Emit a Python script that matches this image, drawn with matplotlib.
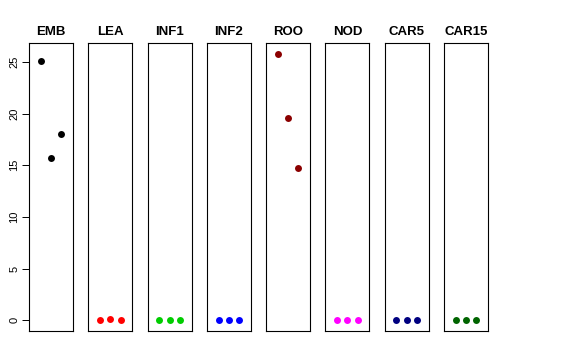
import matplotlib
matplotlib.use("Agg")
from matplotlib import pyplot as plt

plt.rcParams['font.family'] = ['Liberation Sans', 'DejaVu Sans']

panels = ["EMB", "LEA", "INF1", "INF2", "ROO", "NOD", "CAR5", "CAR15"]
colors = ["black", "red", "#00CD00", "blue", "#8B0000", "magenta", "#000080", "#006400"]
values = [
    [25.1, 15.7, 18.0],
    [0.0, 0.1, 0.0],
    [0.0, 0.0, 0.0],
    [0.0, 0.0, 0.0],
    [25.8, 19.6, 14.7],
    [0.0, 0.0, 0.0],
    [0.0, 0.0, 0.0],
    [0.0, 0.0, 0.0],
]
yticks = [0, 5, 10, 15, 20, 25]

fig, axes = plt.subplots(1, len(panels), figsize=(5.76, 3.6), dpi=100, sharey=True)
fig.subplots_adjust(left=29/576, right=488/576, bottom=1-331/360, top=1-43/360, wspace=15/44)

ymax = max(max(v) for v in values)
pad = 0.04 * ymax
for i, ax in enumerate(axes):
    xs = range(1, len(values[i]) + 1)
    ax.plot(xs, values[i], 'o', color=colors[i], ms=5, mec='none')
    ax.set_xlim(-0.15, 4.15)
    ax.set_ylim(-pad, ymax + pad)
    ax.set_title(panels[i], fontsize=9.5, fontweight='bold', pad=6)
    ax.set_xticks([])
    for s in ax.spines.values():
        s.set_linewidth(0.8)
    if i == 0:
        ax.set_yticks(yticks)
        ax.tick_params(axis='y', labelsize=8, length=5, width=0.7, pad=2)
        for lab in ax.get_yticklabels():
            lab.set_rotation(90)
            lab.set_va('center')
    else:
        ax.tick_params(axis='y', left=False, labelleft=False)

fig.savefig("out.png", dpi=100)
